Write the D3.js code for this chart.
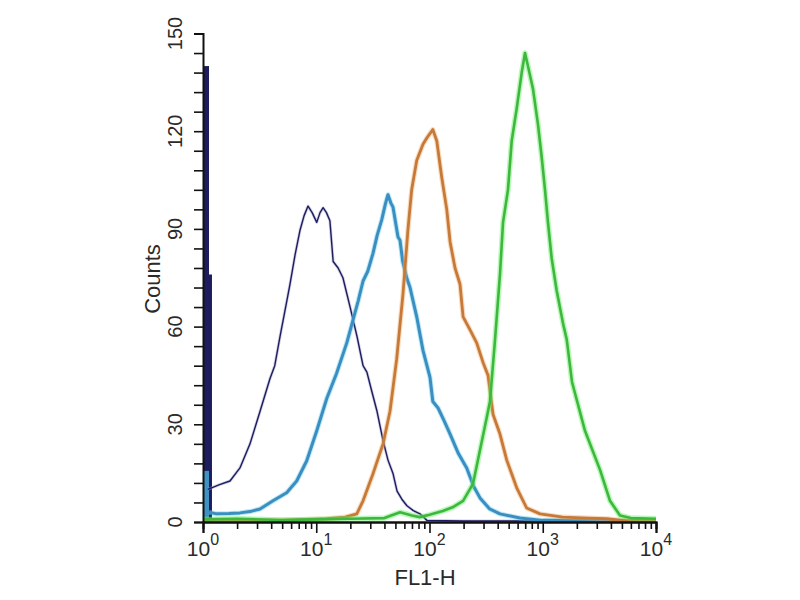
<!DOCTYPE html>
<html>
<head>
<meta charset="utf-8">
<script src="https://cdn.jsdelivr.net/npm/d3@7"></script>
<style>
  body { margin: 0; background: #fff; }
  svg text { font-family: "Liberation Sans", Arial, sans-serif; fill: #2a2a2a; }
</style>
</head>
<body>
<div id="chart-container"></div>
<script>
(function() {
  'use strict';

// FL1-H channel value, counts
const controlData = [[1.1,10],[1.19,10.5],[1.4,11.5],[1.73,12.6],[2.12,16.6],[2.6,24],[3.19,34],[3.9,44],[4.3,48],
  [4.79,57],[5.3,65],[5.86,73],[6.5,82],[7.19,89.6],[7.8,94],[8.46,97],[9.2,95],[10.1,92],[10.8,95],[11.5,96.5],
  [12.3,95],[13.2,92.5],[14.1,80],[15.6,78],[17.2,75],[19.9,66],[22.9,57],[25.9,48],[28,46],[31,40],[34.4,34],
  [38.9,25],[43,19],[47.7,14.8],[51.7,9.5],[57,7],[63.2,5],[72,3.5],[82.4,2.5],[95,0.5],[200,0.3],[1000,0.3],[10000,0.3]];

const blueData = [[1.13,3],[1.32,2.5],[1.7,2.6],[2.12,2.8],[2.6,3.2],[3.19,4],[4.15,6.5],[5.48,9],[6.72,12.6],
  [8.24,18.8],[10.1,28],[12.4,38],[15.1,45.6],[18.6,55],[21.1,62],[23.5,68],[25.9,74],[28.5,77],[31.7,82.5],
  [34.5,88],[37.8,92.7],[41,98],[43,100.5],[45.5,98],[47.6,96.7],[52.7,87.5],[54.9,86.5],[58,80],[62.9,75],
  [67.3,72],[71.5,68],[77.1,63],[87.6,52.7],[101,44.4],[107,37],[119,35],[135,31],[152,27],[180,21],[213,16.6],
  [245,11],[279,7.4],[340,4],[419,2.5],[630,1.2],[1000,0.5],[10000,0.3]];

const orangeData = [[1,0.5],[5,0.5],[12.4,1],[18,1.5],[22.8,2.5],[25.9,6.5],[31.7,14.8],[38.9,24],[44.8,34],
  [51.3,50],[58.3,70],[64.6,90],[69.6,102],[77.1,111],[87.6,116],[95,118],[107,120.5],[116,117],[128,106],
  [142,96],[152,86],[168,78],[186,73],[198,63],[228,59],[261,55],[297,49],[329,45],[364,33],[419,27],[481,19],
  [589,10.5],[721,4.3],[946,2.5],[1500,1.5],[2500,1.2],[3670,1],[5000,0.5],[10000,0.3]];

const greenData = [[1,0.8],[2,1],[5,0.6],[10,0.8],[20,1],[40,1.2],[55,3],[70,2],[82,1.5],[100,2.2],[131,3.4],
  [160,4.5],[198,6.5],[242,11.7],[279,22],[320,32],[342,37],[379,56],[419,76],[446,92],[493,102],[532,117],
  [589,127],[652,138],[697,144],[740,140],[820,133],[908,122],[979,112],[1047,102],[1112,92],[1199,81],
  [1328,71],[1510,61],[1629,56],[1813,43],[2360,28],[3205,16],[3925,6.5],[4810,2],[6000,1.2],[10000,1]];

// first-channel pile-up: [from, to, counts]
const firstChannel = [[1, 1.2, 76, '#1c1c5e'], [1, 1.13, 140, '#1c1c5e'], [1, 1.13, 15.7, '#3f93c4']];

const yTickLabels = [0, 30, 60, 90, 120, 150];
const xTickExps = [0, 1, 2, 3, 4];

const W = 800;
const H = 600;

const xScale = d3.scaleLog().domain([1, 10000]).range([203, 656]);
const yScale = d3.scaleLinear().domain([0, 150]).range([522, 33.5]);

const svg = d3.select('#chart-container')
  .append('svg')
    .attr('width', W)
    .attr('height', H);

const line = d3.line()
  .x((d) => xScale(d[0]))
  .y((d) => yScale(d[1]))
  .curve(d3.curveLinear);

svg.selectAll('rect.first')
  .data(firstChannel)
  .enter()
  .append('rect')
    .attr('class', 'first')
    .attr('x', (d) => xScale(d[0]))
    .attr('y', (d) => yScale(d[2]))
    .attr('width', (d) => xScale(d[1]) - xScale(d[0]))
    .attr('height', (d) => yScale(0) - yScale(d[2]))
    .attr('fill', (d) => d[3]);

function drawSeries(data, halo, core, hw, cw) {
  svg.append('path')
    .datum(data)
    .attr('d', line)
    .attr('fill', 'none')
    .attr('stroke', halo)
    .attr('stroke-opacity', 0.45)
    .attr('stroke-width', hw)
    .attr('stroke-linejoin', 'round');
  svg.append('path')
    .datum(data)
    .attr('d', line)
    .attr('fill', 'none')
    .attr('stroke', core)
    .attr('stroke-width', cw)
    .attr('stroke-linejoin', 'round');
}

drawSeries(controlData, '#9a9ac8', '#1c1c5e', 3, 1.4);
drawSeries(blueData, '#66ccee', '#3a8fc0', 5, 3);
drawSeries(orangeData, '#f0b070', '#c77a38', 5, 2.8);
drawSeries(greenData, '#66ee66', '#3db83d', 5.5, 2.6);

// axes
const xMinor = [];
xTickExps.slice(0, -1).forEach((e) => {
  for (let k = 2; k <= 9; k++) xMinor.push(k * Math.pow(10, e));
});

const xAxis = d3.axisBottom(xScale)
  .tickValues(xMinor)
  .tickSize(7)
  .tickFormat('');
const xAxisMajor = d3.axisBottom(xScale)
  .tickValues(xTickExps.map((e) => Math.pow(10, e)))
  .tickSize(11)
  .tickFormat('');

svg.append('g')
  .attr('id', 'x-axis')
  .attr('transform', `translate(0, ${yScale(0)})`)
  .call(xAxis);
svg.append('g')
  .attr('transform', `translate(0, ${yScale(0)})`)
  .call(xAxisMajor);

const yAxis = d3.axisLeft(yScale)
  .tickValues(d3.range(0, 151, 6))
  .tickSize(9)
  .tickFormat('');

svg.append('g')
  .attr('id', 'y-axis')
  .attr('transform', `translate(${xScale(1)}, 0)`)
  .call(yAxis);

svg.selectAll('#x-axis path, #y-axis path, g .domain')
  .attr('stroke', '#111')
  .attr('stroke-width', 2);
svg.selectAll('g .tick line')
  .attr('stroke', '#111')
  .attr('stroke-width', 1.6);

// tick labels
xTickExps.forEach((e) => {
  const t = svg.append('text')
    .attr('x', xScale(Math.pow(10, e)))
    .attr('y', 556)
    .attr('text-anchor', 'middle')
    .attr('font-size', 21);
  t.append('tspan').text('10');
  t.append('tspan')
    .attr('dy', -11)
    .attr('font-size', 16)
    .text(String(e));
});

yTickLabels.forEach((v) => {
  svg.append('text')
    .attr('transform', `translate(182, ${yScale(v)}) rotate(-90)`)
    .attr('text-anchor', 'middle')
    .attr('font-size', 20)
    .text(v);
});

svg.append('text')
  .attr('transform', 'translate(160, 279) rotate(-90)')
  .attr('text-anchor', 'middle')
  .attr('font-size', 22)
  .text('Counts');

svg.append('text')
  .attr('x', 425)
  .attr('y', 585)
  .attr('text-anchor', 'middle')
  .attr('font-size', 22)
  .text('FL1-H');

})()
</script>
</body>
</html>
